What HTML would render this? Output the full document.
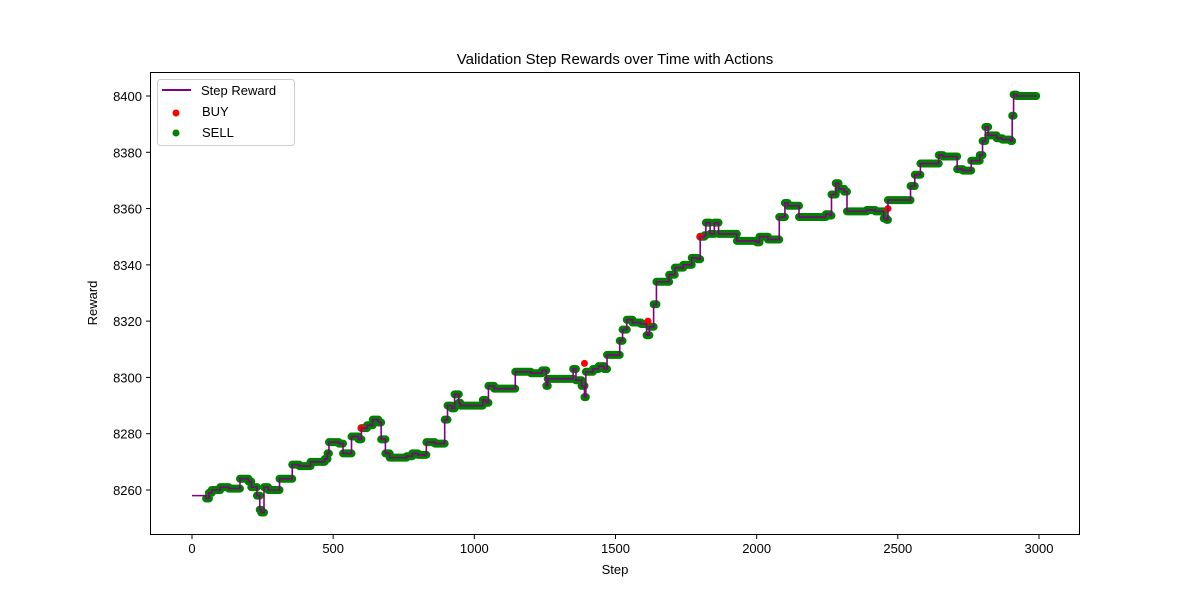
<!DOCTYPE html>
<html><head><meta charset="utf-8"><style>
body{margin:0;background:#fff;}
text{font-family:"Liberation Sans","DejaVu Sans",sans-serif;fill:#000;}
</style></head><body>
<svg id="chart" width="1200" height="600" xmlns="http://www.w3.org/2000/svg">
<rect width="1200" height="600" fill="#fff"/>
<text x="615" y="64" font-size="15" text-anchor="middle">Validation Step Rewards over Time with Actions</text>
<g id="xticks"></g>
<g id="yticks"></g>
<g id="series"></g>
<rect x="150.5" y="72.5" width="929" height="462" fill="none" stroke="#000" stroke-width="1"/>
<text x="615" y="574" font-size="13" text-anchor="middle">Step</text>
<text x="97" y="303" font-size="13" text-anchor="middle" transform="rotate(-90 97 303)">Reward</text>
<g>
<rect x="157.5" y="79.5" width="137" height="66" rx="3" fill="#fff" fill-opacity="0.8" stroke="#ccc"/>
<line x1="162" y1="90" x2="191" y2="90" stroke="#800080" stroke-width="2"/>
<text x="201" y="95" font-size="13">Step Reward</text>
<circle cx="176" cy="113" r="3.5" fill="#f00"/>
<text x="202" y="116" font-size="13">BUY</text>
<circle cx="176" cy="133" r="3.5" fill="#008000"/>
<text x="202" y="137" font-size="13">SELL</text>
</g>
</svg>
<script>
const steps=[0,50,60,70,100,130,170,200,210,230,240,245,255,270,310,340,355,380,420,470,480,485,520,535,565,590,600,620,640,660,670,685,700,760,780,800,830,860,895,905,920,930,945,950,1000,1030,1040,1050,1070,1140,1145,1200,1240,1255,1260,1340,1350,1360,1380,1390,1395,1420,1440,1460,1470,1500,1515,1525,1540,1560,1590,1610,1620,1635,1645,1680,1690,1710,1740,1770,1790,1800,1815,1820,1835,1850,1865,1900,1930,1970,2000,2010,2040,2070,2080,2100,2110,2140,2150,2200,2240,2245,2260,2265,2280,2290,2310,2320,2340,2390,2420,2450,2460,2465,2500,2545,2560,2580,2630,2645,2660,2700,2710,2730,2745,2760,2780,2790,2800,2810,2820,2840,2850,2870,2900,2905,2910,2920,2990];
const rewards=[8258,8257,8259,8260,8261,8260.5,8264,8263,8261,8258,8253,8252,8261,8260,8264,8264,8269,8268.5,8270,8271,8273,8277,8276.5,8273,8279,8278,8282,8283,8285,8284,8278,8273,8271.5,8272,8273,8272.5,8277,8276.5,8285,8290,8289,8294,8291,8290,8290,8292,8291,8297,8296,8296,8302,8301.5,8302.5,8297,8299.5,8299.5,8303,8299,8297,8293,8302,8303,8304,8303,8308,8308,8313,8317,8320.5,8319.5,8319,8315,8318,8326,8334,8334,8336.5,8339,8340,8342.5,8342,8350,8350.5,8355,8351,8355,8351,8351,8348.5,8348.5,8348,8350,8349,8349,8357,8362,8361,8361,8357,8357,8357,8358,8357.5,8365,8369,8367,8366,8359,8359,8359.5,8359,8356.5,8356,8363,8363,8368,8372,8376,8376,8379,8378.5,8378.5,8374,8373.5,8373.5,8377,8377,8379,8384,8389,8386,8386,8385,8384.5,8384,8393,8400.5,8400,8400];
const buySteps=[600,1390,1615,1800,2465];
const buyRewards=[8282,8305,8320,8350,8360];
const xTicks=[0,500,1000,1500,2000,2500,3000];
const yTicks=[8260,8280,8300,8320,8340,8360,8380,8400];
const NS="http://www.w3.org/2000/svg";
function xs(v){return 192+v*(847/3000);}
function ys(v){return 490-(v-8260)*(394/140);}
function mk(t,a,p){const e=document.createElementNS(NS,t);for(const k in a)e.setAttribute(k,a[k]);p.appendChild(e);return e;}
const gx=document.getElementById('xticks'),gy=document.getElementById('yticks'),gs=document.getElementById('series');
xTicks.forEach(v=>{const x=xs(v);
const l=mk('line',{x1:x,y1:534.5,x2:x,y2:539,stroke:'#000'},gx);


const t=mk('text',{x:x,y:553,'font-size':13,'text-anchor':'middle'},gx);t.textContent=v;

});
yTicks.forEach(v=>{const y=ys(v);
const l=mk('line',{x1:146,y1:y,x2:150.5,y2:y,stroke:'#000'},gy);


const t=mk('text',{x:142,y:y+5,'font-size':13,'text-anchor':'end'},gy);t.textContent=v;

});
function stepPath(start){let d='';for(let i=start;i<steps.length;i++){const x=xs(steps[i]),y=ys(rewards[i]);if(i===start)d+='M'+x+','+y;else d+='H'+x+'V'+y;}return d;}
let bd='';
for(let i=1;i<steps.length-1;i++){bd+='M'+xs(steps[i])+','+ys(rewards[i])+'H'+xs(steps[i+1]);}
const band=mk('path',{d:bd,fill:'none',stroke:'#008000','stroke-width':8,'stroke-linecap':'round'},gs);


buySteps.forEach((s,i)=>{const c=mk('circle',{cx:xs(s),cy:ys(buyRewards[i]),r:3.5,fill:'#f00'},gs);

});
const line=mk('path',{d:stepPath(0),fill:'none',stroke:'#800080','stroke-width':1.6},gs);


</script>
</body></html>
